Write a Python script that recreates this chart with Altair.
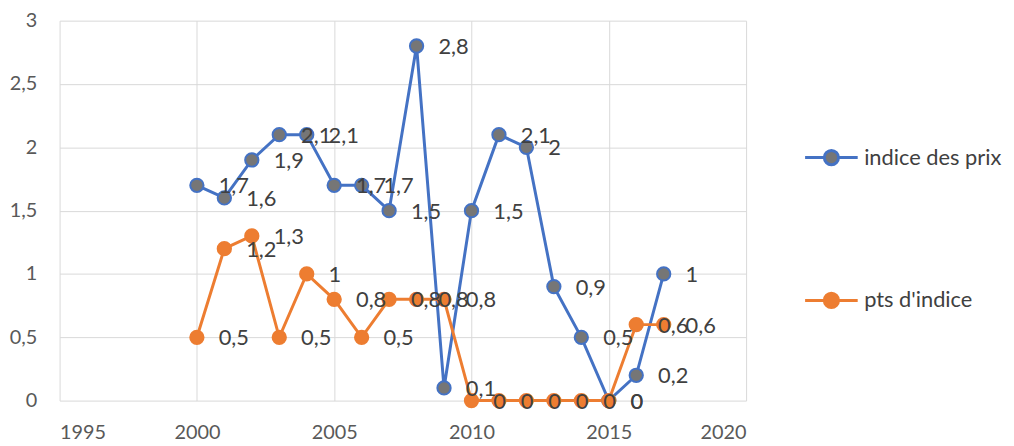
import altair as alt
import pandas as pd

years = list(range(2000, 2018))
indice_des_prix = [1.7, 1.6, 1.9, 2.1, 2.1, 1.7, 1.7, 1.5, 2.8, 0.1, 1.5, 2.1, 2.0, 0.9, 0.5, 0, 0.2, 1]
pts_indice = [0.5, 1.2, 1.3, 0.5, 1, 0.8, 0.5, 0.8, 0.8, 0.8, 0, 0, 0, 0, 0, 0, 0.6, 0.6]
series_names = ["indice des prix", "pts d'indice"]
line_colors = ["#4472C4", "#ED7D31"]
marker_fills = ["#767676", "#ED7D31"]
x_ticks = [1995, 2000, 2005, 2010, 2015, 2020]
y_ticks = [0, 0.5, 1, 1.5, 2, 2.5, 3]

rows = []
for name, vals in zip(series_names, [indice_des_prix, pts_indice]):
    for yr, v in zip(years, vals):
        rows.append({"year": yr, "value": v, "series": name,
                     "label": f"{v:g}".replace(".", ",")})
df = pd.DataFrame(rows)

FONT = "Lato"
sym_path = ("M-1,0L-0.27,0M0.27,0L1,0"
            "M0.27,0A0.27,0.27,0,1,1,-0.27,0A0.27,0.27,0,1,1,0.27,0Z")

legend = alt.Legend(
    title=None, orient="none", legendX=750, legendY=110,
    symbolType=sym_path, symbolSize=2809, symbolStrokeWidth=3,
    labelFont=FONT, labelFontSize=22, labelColor="#404040",
    rowPadding=102, labelOffset=5, symbolOpacity=1, labelLimit=300,
)

x = alt.X("year:Q", scale=alt.Scale(domain=[1995, 2020], nice=False, zero=False),
          axis=alt.Axis(values=x_ticks, format="d", title=None, labelPadding=22))
y = alt.Y("value:Q", scale=alt.Scale(domain=[0, 3], nice=False),
          axis=alt.Axis(values=y_ticks, title=None, labelPadding=23,
                        labelExpr="replace(format(datum.value, '~g'), '.', ',')"))

stroke = alt.Stroke("series:N", scale=alt.Scale(domain=series_names, range=line_colors), legend=legend)
fill = alt.Fill("series:N", scale=alt.Scale(domain=series_names, range=marker_fills), legend=legend)

base = alt.Chart(df).encode(x=x, y=y)

lines = base.mark_line(strokeWidth=3).encode(stroke=stroke)
points = base.mark_point(shape="circle", filled=True, size=180, strokeWidth=2, opacity=1).encode(
    stroke=stroke, fill=fill)
labels = base.mark_text(align="left", baseline="middle", dx=22, dy=1, fontSize=22,
                        font=FONT, color="#404040").encode(text="label:N")

chart = alt.layer(lines, points, labels).properties(
    width=692, height=383,
    padding={"left": 52, "top": 11, "right": 262, "bottom": 44},
    autosize=alt.AutoSizeParams(type="none"),
).configure_view(stroke=None).configure_axis(
    labelFont=FONT, labelFontSize=20, labelColor="#595959",
    gridColor="#D9D9D9", gridWidth=1, domain=False, ticks=False,
).configure_legend(labelFontSize=22, labelFont=FONT, labelLimit=300)

chart.save("out.html", embed_options={"renderer": "svg", "actions": False})
